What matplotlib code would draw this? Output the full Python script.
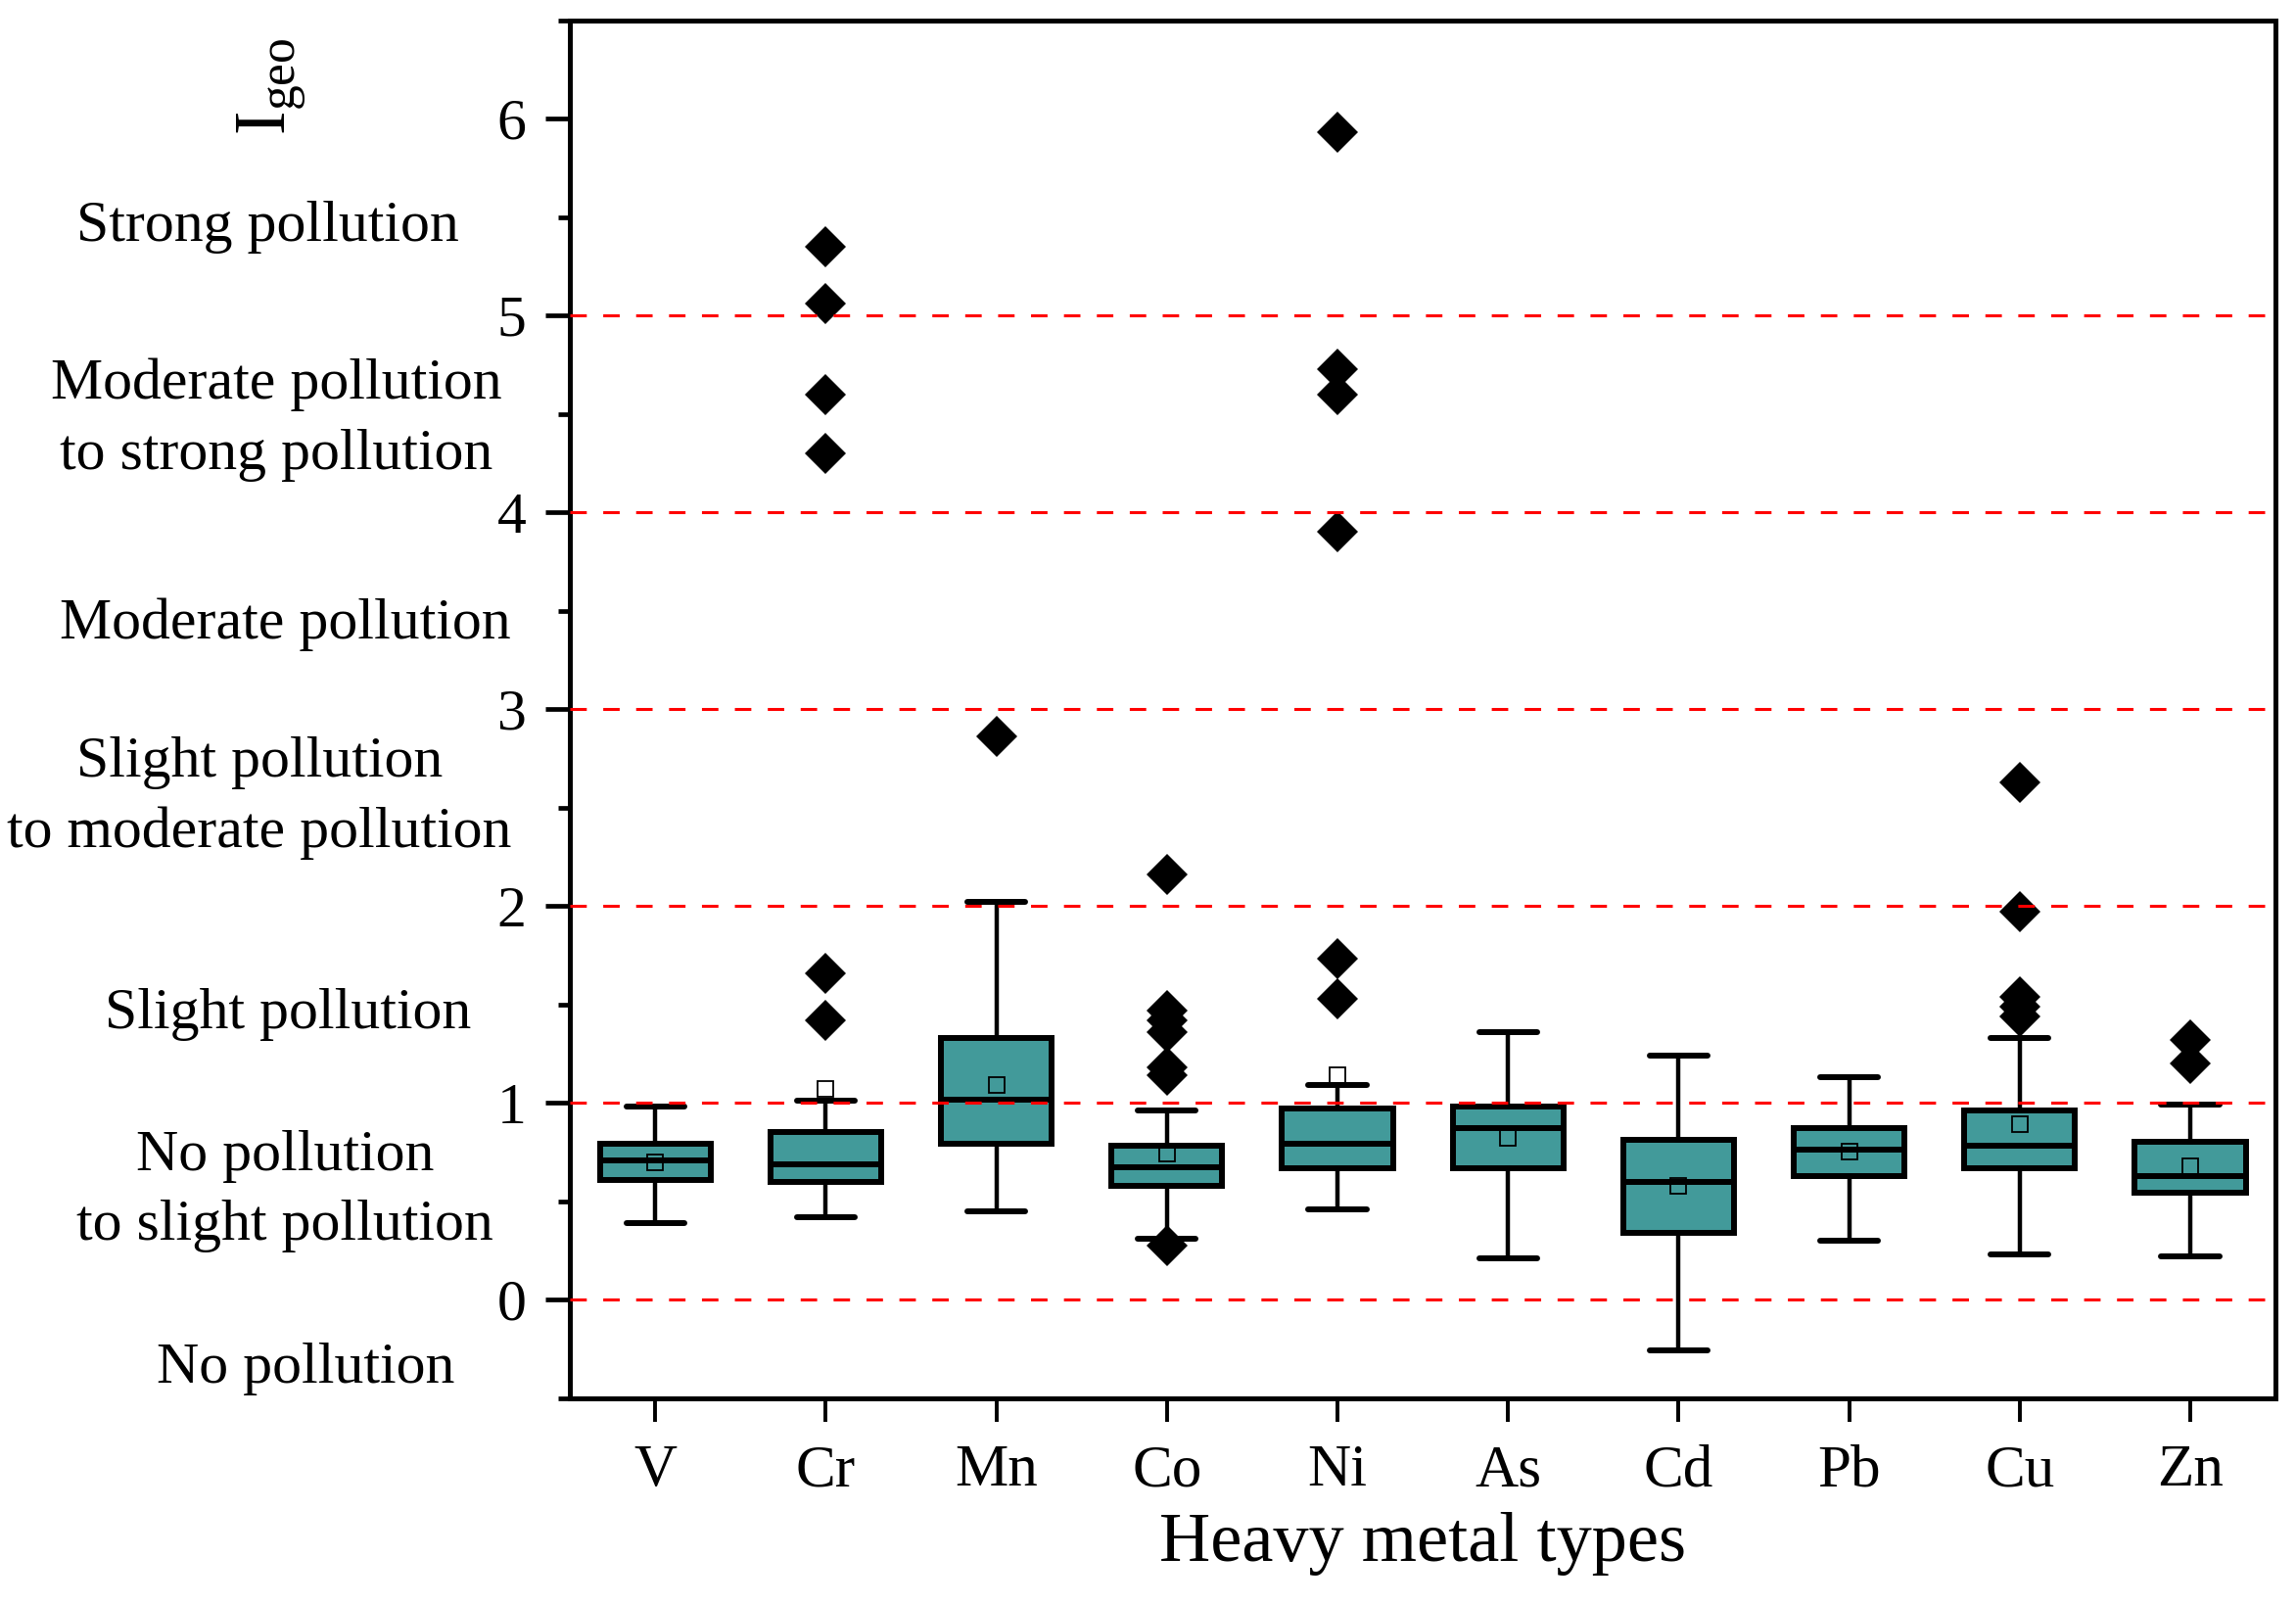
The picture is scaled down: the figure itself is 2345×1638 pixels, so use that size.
import numpy as np
import matplotlib
matplotlib.use('Agg')
import matplotlib.pyplot as plt

plt.rcParams['font.family'] = ['Liberation Serif', 'DejaVu Serif']
plt.rcParams['mathtext.fontset'] = 'custom'
plt.rcParams['mathtext.rm'] = 'Liberation Serif'
plt.rcParams['mathtext.it'] = 'Liberation Serif:italic'

# box statistics (Igeo)
metals = ['V', 'Cr', 'Mn', 'Co', 'Ni', 'As', 'Cd', 'Pb', 'Cu', 'Zn']
q1 = [0.61, 0.60, 0.79, 0.58, 0.67, 0.67, 0.34, 0.63, 0.67, 0.545]
med = [0.705, 0.69, 1.015, 0.675, 0.79, 0.87, 0.60, 0.76, 0.78, 0.63]
q3 = [0.79, 0.85, 1.33, 0.78, 0.97, 0.98, 0.81, 0.87, 0.96, 0.80]
whislo = [0.39, 0.42, 0.45, 0.31, 0.46, 0.21, -0.26, 0.30, 0.23, 0.22]
whishi = [0.98, 1.01, 2.02, 0.96, 1.09, 1.36, 1.24, 1.13, 1.33, 0.99]
means = [0.70, 1.07, 1.09, 0.74, 1.14, 0.82, 0.58, 0.75, 0.89, 0.68]
fliers = [
    [],
    [5.35, 5.06, 4.60, 4.30, 1.66, 1.42],
    [2.86],
    [2.16, 1.47, 1.42, 1.36, 1.18, 1.14, 0.275],
    [5.93, 4.73, 4.60, 3.90, 1.73, 1.53],
    [],
    [],
    [],
    [2.63, 1.97, 1.54, 1.49, 1.44],
    [1.32, 1.20],
]

levels = [0, 1, 2, 3, 4, 5]
level_names = ['Strong pollution',
               'Moderate pollution\nto strong pollution',
               'Moderate pollution',
               'Slight pollution\nto moderate pollution',
               'Slight pollution',
               'No pollution\nto slight pollution',
               'No pollution']
level_y = [5.45, 4.47, 3.43, 2.55, 1.45, 0.55, -0.35]
level_x = [-0.177, -0.172, -0.167, -0.182, -0.165, -0.167, -0.155]

stats = []
for i in range(len(metals)):
    stats.append(dict(label=metals[i], q1=q1[i], med=med[i], q3=q3[i],
                      whislo=whislo[i], whishi=whishi[i], mean=means[i],
                      fliers=np.array(fliers[i])))

fig = plt.figure(figsize=(23.45, 16.38), dpi=100)
ax = fig.add_axes([0.2482, 0.1284, 0.7429, 0.8589])

pos = np.arange(1, len(metals) + 1)
ax.bxp(stats, positions=pos, widths=0.65, capwidths=0.34,
       patch_artist=True, showmeans=True, showfliers=True,
       boxprops=dict(facecolor='#429A9A', edgecolor='black', linewidth=4.3),
       medianprops=dict(color='black', linewidth=4.3),
       whiskerprops=dict(color='black', linewidth=3.2),
       capprops=dict(color='black', linewidth=4.3, solid_capstyle='round'),
       flierprops=dict(marker='D', markerfacecolor='black',
                       markeredgecolor='black', markersize=21, markeredgewidth=0),
       meanprops=dict(marker='s', markerfacecolor='none',
                      markeredgecolor='black', markersize=11, markeredgewidth=1.3))

for lv in levels:
    ax.axhline(lv, color='red', linewidth=2.2, linestyle=(0, (5.5, 5.5)), zorder=5)

ax.set_xlim(0.5, 10.5)
ax.set_ylim(-0.5, 6.5)
ax.set_yticks([0, 1, 2, 3, 4, 5, 6])
ax.set_yticks(np.arange(-0.5, 6.6, 0.5), minor=True)
ax.set_xticks(pos)
ax.set_xticklabels(metals)

for s in ax.spines.values():
    s.set_linewidth(3.6)
ax.tick_params(axis='y', which='major', length=18, width=3.4, labelsize=43, pad=14)
ax.tick_params(axis='y', which='minor', length=8.5, width=3.4)
ax.tick_params(axis='x', which='major', length=17, width=2.8, labelsize=44, pad=17)
ax.set_xlabel('Heavy metal types', fontsize=52, labelpad=10)

for name, yy, xx in zip(level_names, level_y, level_x):
    ax.text(xx, yy, name, transform=ax.get_yaxis_transform(), ha='center',
            va='center', fontsize=43, linespacing=1.42)

fig.text(0.118, 0.946, r'$\mathrm{I}_{\mathrm{geo}}$', rotation=90,
         ha='center', va='center', fontsize=53)

fig.savefig('out.png', dpi=100)
